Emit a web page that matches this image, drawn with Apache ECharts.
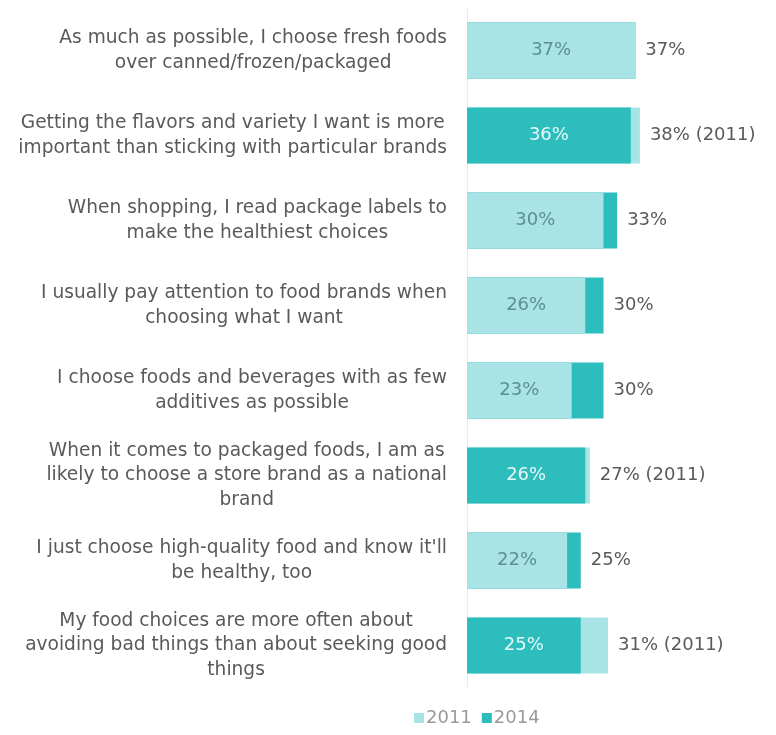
<!DOCTYPE html>
<html>
<head>
<meta charset="utf-8">
<script src="https://cdn.jsdelivr.net/npm/echarts@6/dist/echarts.min.js"></script>
<style>
  html, body { margin: 0; padding: 0; background: #ffffff; }
  #chart { width: 776px; height: 735px; }
</style>
</head>
<body>
<div id="chart"></div>
<script>
// Survey statements (one per row, top to bottom)
const categories = [
  "As much as possible, I choose fresh foods\nover canned/frozen/packaged",
  "Getting the flavors and variety I want is more\nimportant than sticking with particular brands",
  "When shopping, I read package labels to\nmake the healthiest choices",
  "I usually pay attention to food brands when\nchoosing what I want",
  "I choose foods and beverages with as few\nadditives as possible",
  "When it comes to packaged foods, I am as\nlikely to choose a store brand as a national\nbrand",
  "I just choose high-quality food and know it'll\nbe healthy, too",
  "My food choices are more often about\navoiding bad things than about seeking good\nthings"
];
// Share of respondents agreeing, in percent
const share2011 = [37, 38, 30, 26, 23, 27, 22, 31];
const share2014 = [37, 36, 33, 30, 30, 26, 25, 25];
const seriesNames = ["2011", "2014"];

const LIGHT = "#a8e4e5";
const DARK = "#2dbdbd";
const FONT = "DejaVu Sans";

const outerLabel = (fmt) => ({
  show: true, position: "right", distance: 10,
  formatter: fmt, color: "#5a5a5a", fontSize: 18, fontFamily: FONT
});
const innerLabel = (color) => ({
  show: true, position: "inside",
  formatter: "{c}%", color: color, fontSize: 18, fontFamily: FONT
});

// Back layer: 2011 values, labelled outside when 2011 is the larger value
const data2011Back = share2011.map((v, i) => ({
  value: v,
  label: v > share2014[i] ? outerLabel("{c}% (2011)") : { show: false }
}));
// Middle layer: 2014 values
const data2014 = share2014.map((v, i) => ({
  value: v,
  label: v >= share2011[i] ? outerLabel("{c}%") : innerLabel("#e6f8f8")
}));
// Front layer: 2011 values where 2011 is the smaller (or equal) value
const data2011Front = share2011.map((v, i) =>
  v <= share2014[i] ? { value: v, label: innerLabel("#5e8e92") } : "-"
);

const chart = echarts.init(document.getElementById("chart"), null, { renderer: "canvas" });

const barBase = {
  type: "bar",
  barWidth: 56,
  barGap: "-100%",
  silent: true,
  animation: false
};

chart.setOption({
  backgroundColor: "#ffffff",
  animation: false,
  grid: { left: 467, right: 36, top: 8, bottom: 47, containLabel: false },
  xAxis: {
    type: "value", min: 0, max: 60,
    show: false
  },
  yAxis: {
    type: "category",
    inverse: true,
    data: categories,
    axisLine: { show: true, lineStyle: { color: "#ececec", width: 1 } },
    axisTick: { show: false },
    splitLine: { show: false },
    axisLabel: {
      margin: 20,
      align: "right",
      formatter: (value) => value.split("\n").map((l) => "{c|" + l + "}").join("\n"),
      rich: {
        c: { align: "center", fontSize: 18.6, lineHeight: 24.5, color: "#5a5a5a", fontFamily: FONT }
      }
    }
  },
  legend: {
    data: seriesNames,
    left: 409,
    bottom: 3,
    itemWidth: 10,
    itemHeight: 10,
    itemGap: 10,
    icon: "rect",
    textStyle: { color: "#9a9a9a", fontSize: 18, fontFamily: FONT, padding: [0, 0, 0, -3] }
  },
  series: [
    Object.assign({}, barBase, { name: seriesNames[0], data: data2011Back, itemStyle: { color: LIGHT } }),
    Object.assign({}, barBase, { name: seriesNames[1], data: data2014, itemStyle: { color: DARK } }),
    Object.assign({}, barBase, { name: seriesNames[0], data: data2011Front, itemStyle: { color: LIGHT } })
  ]
});
</script>
</body>
</html>
